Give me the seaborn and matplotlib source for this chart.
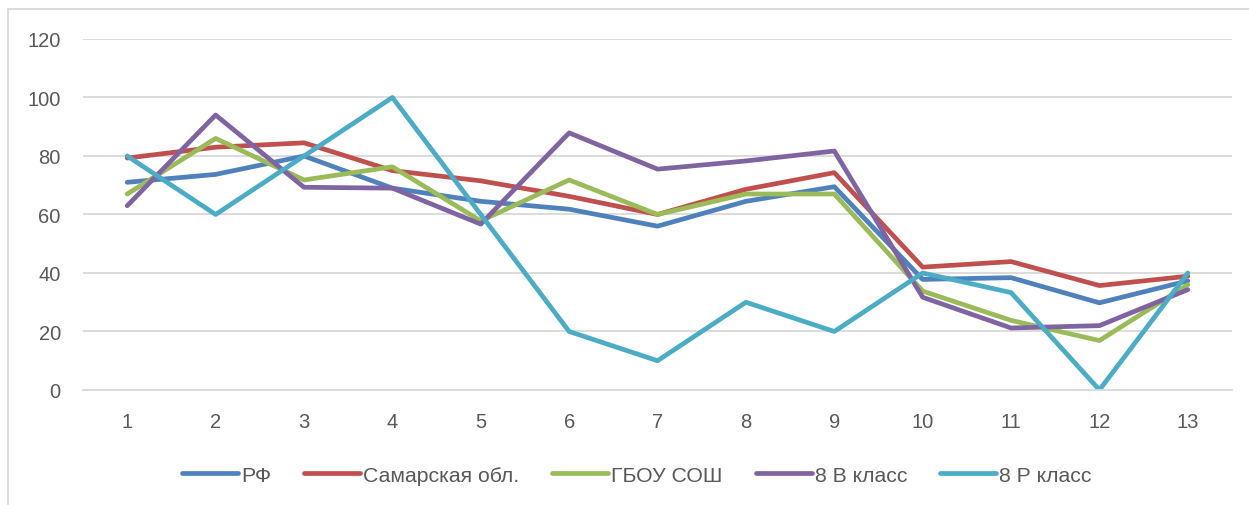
import pandas as pd
import matplotlib
matplotlib.use("Agg")
import matplotlib.pyplot as plt
from matplotlib.lines import Line2D
import seaborn as sns

tasks = list(range(1, 14))
rf = [71, 73.7, 80, 69, 64.5, 61.8, 56, 64.5, 69.5, 37.8, 38.4, 29.8, 37.3]
samara = [79.3, 83, 84.5, 75, 71.5, 66.2, 60, 68.6, 74.3, 42, 43.9, 35.7, 38.9]
school = [67, 86, 71.8, 76.3, 57.8, 71.8, 60, 67, 67, 33.8, 23.8, 16.9, 36]
class_v = [63, 94, 69.3, 69, 56.7, 87.9, 75.5, 78.3, 81.7, 31.7, 21.2, 22, 34.3]
class_r = [80, 60, 80, 100, 60, 20, 10, 30, 20, 40, 33.3, 0, 40]

series_names = ["РФ", "Самарская обл.", "ГБОУ СОШ", "8 В класс", "8 Р класс"]
colors = ["#4F81BD", "#C0504D", "#9BBB59", "#8064A2", "#4BACC6"]

df = pd.DataFrame({"Задание": tasks, "РФ": rf, "Самарская обл.": samara,
                   "ГБОУ СОШ": school, "8 В класс": class_v, "8 Р класс": class_r})
long_df = df.melt(id_vars="Задание", var_name="Серия", value_name="Процент")

sns.set_style("white")
plt.rcParams["font.family"] = ["Liberation Sans", "DejaVu Sans"]

fig = plt.figure(figsize=(12.49, 5.06), dpi=100)
ax = fig.add_axes([0.0665, 0.2273, 0.9199, 0.6937])

palette = dict(zip(series_names, colors))
sns.lineplot(data=long_df, x="Задание", y="Процент", hue="Серия",
             hue_order=series_names, palette=palette, linewidth=3.4,
             sort=False, ax=ax, legend=False)
for line in ax.lines:
    line.set_solid_capstyle("round")
    line.set_solid_joinstyle("round")

ax.set_xlim(0.5, 13.5)
ax.set_ylim(0, 120)
ax.set_xticks(tasks)
ax.set_yticks(range(0, 121, 20))
ax.set_xlabel("")
ax.set_ylabel("")
ax.yaxis.grid(True, color="#D9D9D9", linewidth=1.3)
ax.set_axisbelow(True)
for side in ["top", "right", "left"]:
    ax.spines[side].set_visible(False)
ax.spines["bottom"].set_color("#D9D9D9")
ax.spines["bottom"].set_linewidth(1.3)
ax.tick_params(axis="both", length=0, labelsize=14.5, colors="#595959")
ax.tick_params(axis="y", pad=16)
ax.tick_params(axis="x", pad=16)

handles = [Line2D([], [], color=c, linewidth=3.4, solid_capstyle="round")
           for c in colors]
leg = fig.legend(handles, series_names, loc="center", ncol=5,
                 bbox_to_anchor=(0.51, 0.059), frameon=False, fontsize=15.3,
                 handlelength=2.63, handletextpad=0.15, columnspacing=1.55)
for t in leg.get_texts():
    t.set_color("#595959")

# chart border
fig.add_artist(Line2D([8 / 1249, 1], [1 - 10 / 506, 1 - 10 / 506],
                      color="#D9D9D9", linewidth=1.3, transform=fig.transFigure))
fig.add_artist(Line2D([8 / 1249, 8 / 1249], [0, 1 - 10 / 506],
                      color="#D9D9D9", linewidth=1.3, transform=fig.transFigure))

fig.savefig("out.png", dpi=100)
